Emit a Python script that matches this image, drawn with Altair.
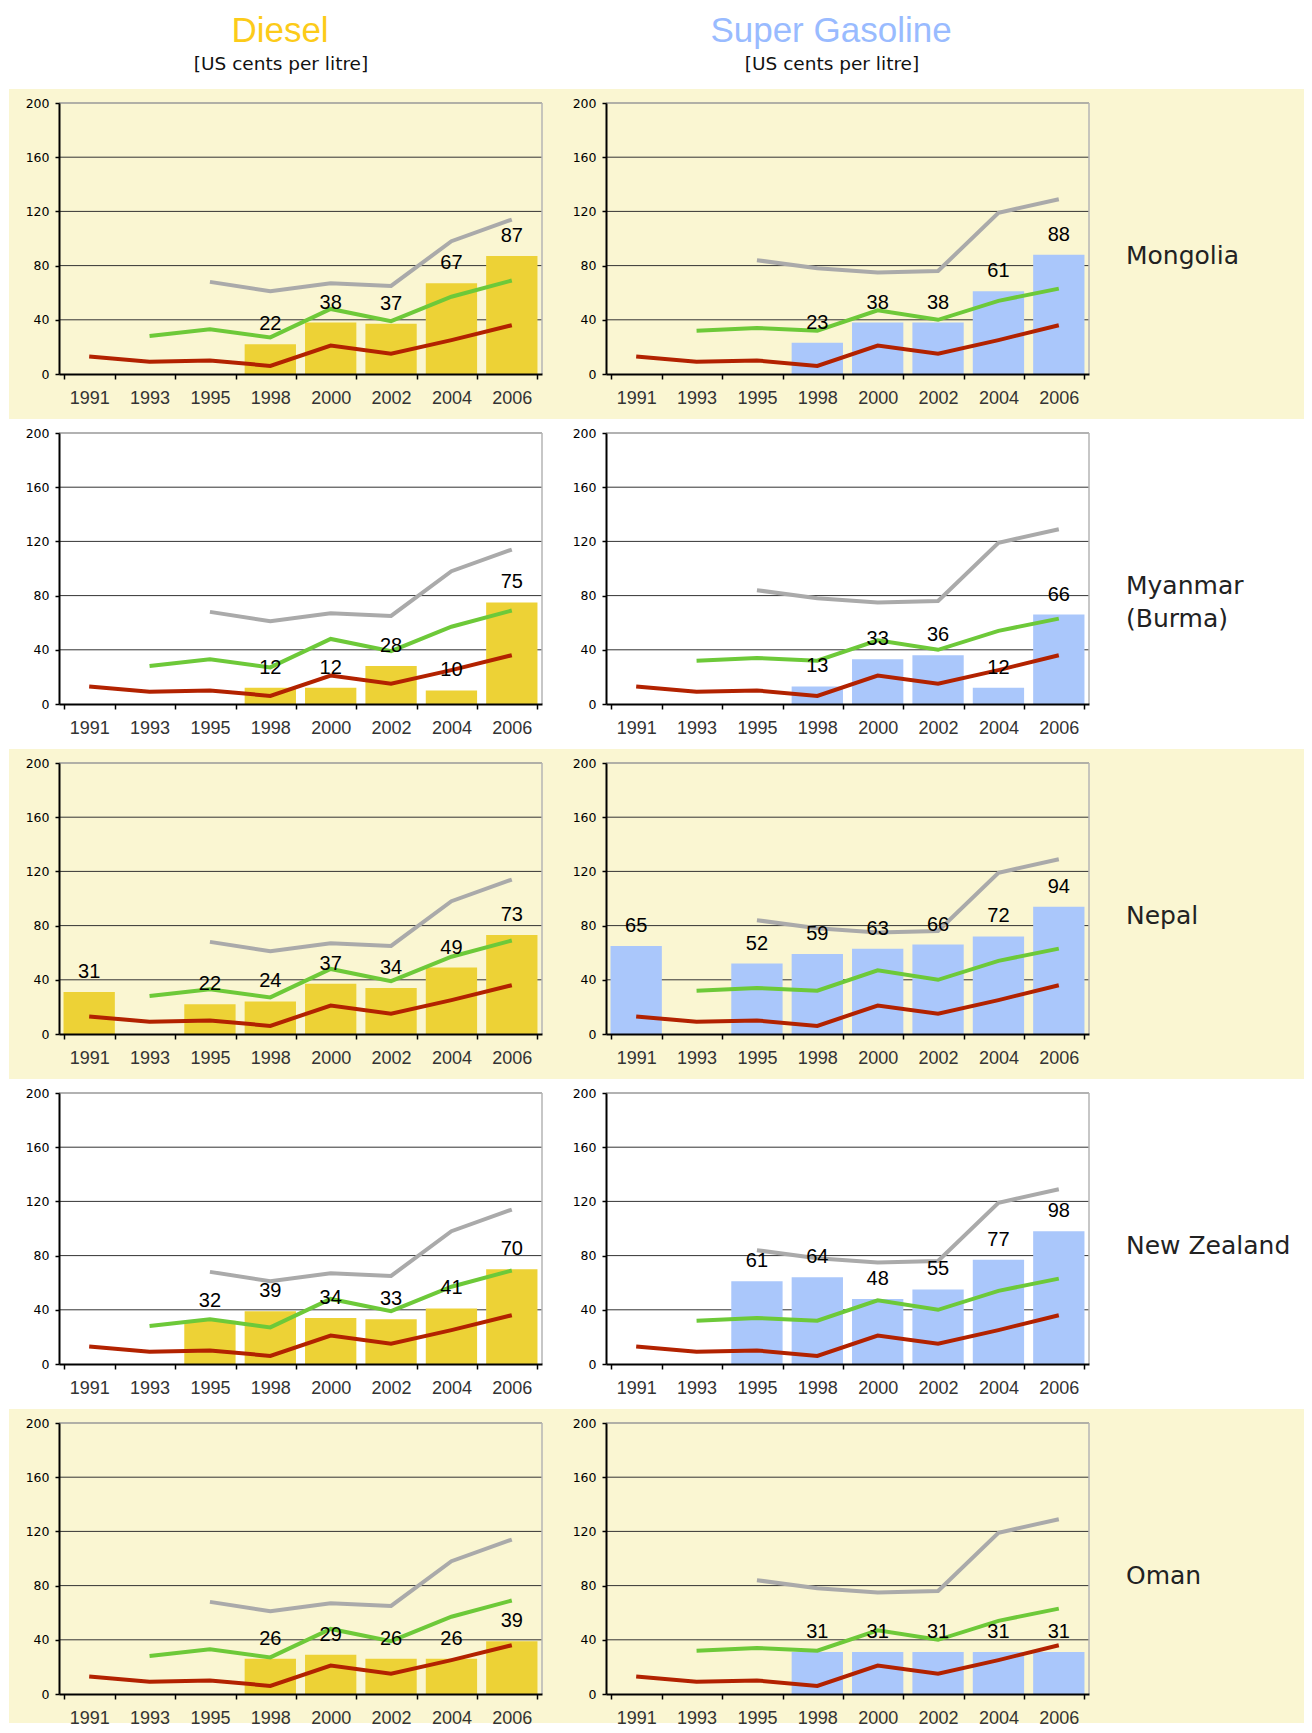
import altair as alt
import pandas as pd

# ---------------- data ----------------
years = ["1991", "1993", "1995", "1998", "2000", "2002", "2004", "2006"]
country_labels = ["Mongolia", "Myanmar\n(Burma)", "Nepal", "New Zealand", "Oman"]

diesel_mongolia = [None, None, None, 22, 38, 37, 67, 87]
diesel_myanmar = [None, None, None, 12, 12, 28, 10, 75]
diesel_nepal = [31, None, 22, 24, 37, 34, 49, 73]
diesel_newzealand = [None, None, 32, 39, 34, 33, 41, 70]
diesel_oman = [None, None, None, 26, 29, 26, 26, 39]

gas_mongolia = [None, None, None, 23, 38, 38, 61, 88]
gas_myanmar = [None, None, None, 13, 33, 36, 12, 66]
gas_nepal = [65, None, 52, 59, 63, 66, 72, 94]
gas_newzealand = [None, None, 61, 64, 48, 55, 77, 98]
gas_oman = [None, None, None, 31, 31, 31, 31, 31]

diesel_prices = [diesel_mongolia, diesel_myanmar, diesel_nepal, diesel_newzealand, diesel_oman]
gas_prices = [gas_mongolia, gas_myanmar, gas_nepal, gas_newzealand, gas_oman]

# reference lines (same in every row)
ref_red = [13, 9, 10, 6, 21, 15, 25, 36]
ref_green_diesel = [None, 28, 33, 27, 48, 39, 57, 69]
ref_gray_diesel = [None, None, 68, 61, 67, 65, 98, 114]
ref_green_gas = [None, 32, 34, 32, 47, 40, 54, 63]
ref_gray_gas = [None, None, 84, 78, 75, 76, 119, 129]

grid_values = [40, 80, 120, 160]
top_value = [200]
y_ticks = [0, 40, 80, 120, 160, 200]

# ---------------- style ----------------
W, H = 483, 271
BAND = "#FAF6D2"
DIESEL_BAR = "#EDD236"
GAS_BAR = "#AAC7FB"
DIESEL_TITLE = "#FCCB19"
GAS_TITLE = "#99BBFF"
RED = "#B22200"
GREEN = "#6DC939"
GRAY = "#AAAAAA"


def frame(vals):
    return pd.DataFrame({"year": years, "value": vals}).dropna()


xscale = alt.Scale(domain=years, paddingInner=0.15, paddingOuter=0.075)
yscale = alt.Scale(domain=[0, 200], nice=False, zero=True)

xaxis = alt.Axis(
    title=None, labelAngle=0, tickBand="extent", grid=False, zindex=1,
    domainColor="#000", domainWidth=2, tickColor="#000", tickWidth=1.5, tickSize=5,
    labelFont="Liberation Sans", labelFontSize=18, labelColor="#333",
    labelPadding=10,
)
yaxis = alt.Axis(
    title=None, values=y_ticks, grid=False, zindex=1,
    domainColor="#000", domainWidth=2, tickColor="#000", tickWidth=1.5, tickSize=4,
    labelFont="DejaVu Sans", labelFontSize=12.5, labelColor="#000", labelPadding=6,
)


def X():
    return alt.X("year:N", sort=years, scale=xscale, axis=xaxis, title=None)


def Y():
    return alt.Y("value:Q", scale=yscale, axis=yaxis, title=None)


def one_row():
    return pd.DataFrame({"k": [0]})


def panel(i, fuel):
    yellow = (i % 2 == 0)
    last = (i == len(country_labels) - 1)
    layers = []
    if fuel == "diesel":
        prices = diesel_prices[i]
        bar_color = DIESEL_BAR
        green, gray = ref_green_diesel, ref_gray_diesel
    else:
        prices = gas_prices[i]
        bar_color = GAS_BAR
        green, gray = ref_green_gas, ref_gray_gas

    if yellow:
        band_bottom = 300 if last else 316
        if fuel == "diesel":
            bx, bx2 = -50, W + 62
        else:
            bx, bx2 = -62, 698
        layers.append(
            alt.Chart(one_row()).mark_rect(color=BAND).encode(
                x=alt.value(bx), x2=alt.value(bx2), y=alt.value(-14), y2=alt.value(band_bottom)
            )
        )

    layers.append(
        alt.Chart(pd.DataFrame({"value": grid_values})).mark_rule(color="#333", strokeWidth=1).encode(y=Y())
    )
    layers.append(
        alt.Chart(pd.DataFrame({"value": top_value})).mark_rule(color="#999", strokeWidth=1.5).encode(y=Y())
    )
    layers.append(
        alt.Chart(one_row()).mark_rule(color="#B5B5B5", strokeWidth=1.5).encode(
            x=alt.value(W), y=alt.value(0), y2=alt.value(H)
        )
    )

    bars = frame(prices)
    layers.append(alt.Chart(bars).mark_bar(color=bar_color).encode(x=X(), y=Y()))
    for vals, col in [(ref_red, RED), (green, GREEN), (gray, GRAY)]:
        layers.append(
            alt.Chart(frame(vals)).mark_line(color=col, strokeWidth=4).encode(x=X(), y=Y())
        )
    layers.append(
        alt.Chart(bars).mark_text(
            baseline="alphabetic", align="center", dy=-14,
            font="Liberation Sans", fontSize=20, color="#000"
        ).encode(x=X(), y=Y(), text=alt.Text("value:Q", format="d"))
    )

    if fuel == "gas":
        layers.append(
            alt.Chart(pd.DataFrame({"label": [country_labels[i]]})).mark_text(
                align="left", baseline="middle", font="DejaVu Sans", fontSize=25,
                color="#222", lineBreak="\n", lineHeight=33
            ).encode(x=alt.value(520), y=alt.value(153), text="label:N")
        )

    if i == 0:
        if fuel == "diesel":
            title, tcol, tx = "Diesel", DIESEL_TITLE, 221
        else:
            title, tcol, tx = "Super Gasoline", GAS_TITLE, 225
        layers.append(
            alt.Chart(pd.DataFrame({"t": [title]})).mark_text(
                align="center", baseline="alphabetic", font="Liberation Sans",
                fontSize=35, color=tcol
            ).encode(x=alt.value(tx), y=alt.value(-61), text="t:N")
        )
        layers.append(
            alt.Chart(pd.DataFrame({"t": ["[US cents per litre]"]})).mark_text(
                align="center", baseline="alphabetic", font="DejaVu Sans",
                fontSize=18.5, color="#111"
            ).encode(x=alt.value(tx + 1), y=alt.value(-33), text="t:N")
        )

    return alt.layer(*layers).properties(width=W, height=H)


panels = []
for i in range(len(country_labels)):
    panels.append(panel(i, "diesel"))
    panels.append(panel(i, "gas"))

chart = alt.concat(
    *panels, columns=2, spacing={"row": 59, "column": 64}, bounds="flush"
).properties(
    padding={"left": 1, "top": 6, "right": 0, "bottom": 0}
).configure_view(stroke=None)

chart.save("out.html", embed_options={"renderer": "svg", "actions": False})
